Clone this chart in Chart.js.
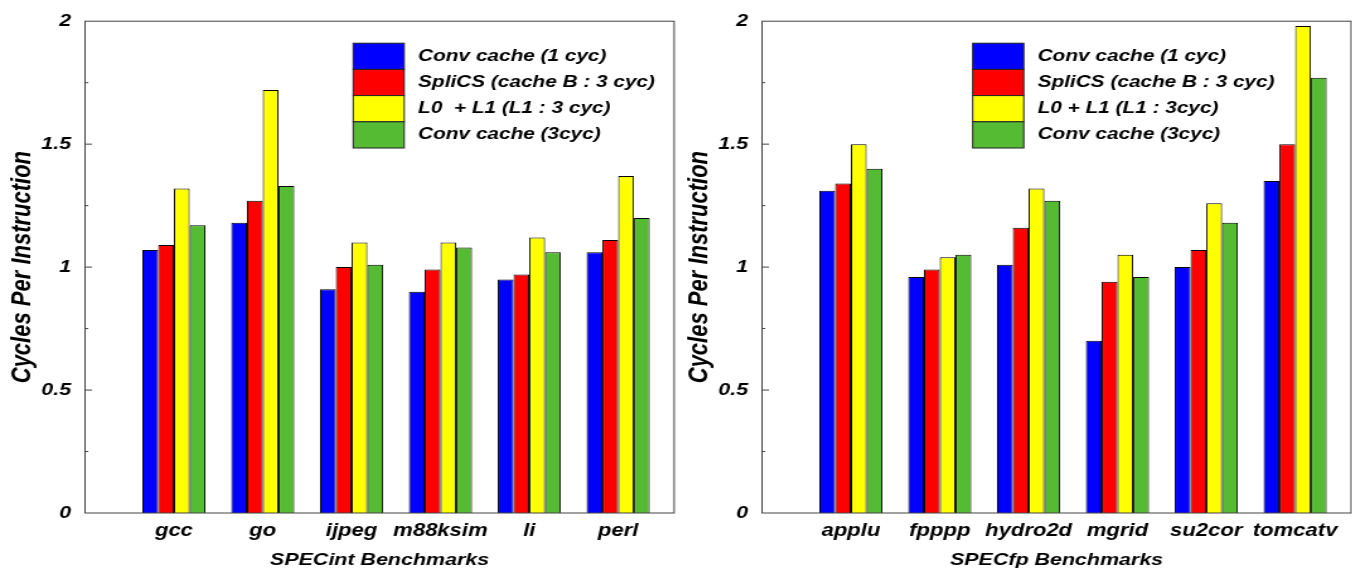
<!DOCTYPE html>
<html>
<head>
<meta charset="utf-8">
<script src="https://cdn.jsdelivr.net/npm/chart.js@4.4.1/dist/chart.umd.min.js"></script>
<style>
  html, body { margin: 0; padding: 0; background: #fff; overflow: hidden; }
  /* the original figure is stretched sideways, so the canvases are too */
  .wrap { position: absolute; top: 0; width: 540px; height: 569px; transform: scaleX(1.26); transform-origin: 0 0; }
  #leftWrap { left: 0; }
  #rightWrap { left: 677px; }
</style>
</head>
<body>
<div id="leftWrap" class="wrap"><canvas id="intChart" width="540" height="569"></canvas></div>
<div id="rightWrap" class="wrap"><canvas id="fpChart" width="540" height="569"></canvas></div>
<script>
var intSeriesNames = ['Conv cache (1 cyc)', 'SpliCS (cache B : 3 cyc)', 'L0  + L1 (L1 : 3 cyc)', 'Conv cache (3cyc)'];
var fpSeriesNames = ['Conv cache (1 cyc)', 'SpliCS (cache B : 3 cyc)', 'L0 + L1 (L1 : 3cyc)', 'Conv cache (3cyc)'];
var seriesColors = ['#0000ff', '#ff0000', '#ffff00', '#55bb33'];

// SPECint
var intBenchmarks = ['gcc', 'go', 'ijpeg', 'm88ksim', 'li', 'perl'];
var intConv1 = [1.07, 1.18, 0.91, 0.90, 0.95, 1.06];
var intSplics = [1.09, 1.27, 1.00, 0.99, 0.97, 1.11];
var intL0L1 = [1.32, 1.72, 1.10, 1.10, 1.12, 1.37];
var intConv3 = [1.17, 1.33, 1.01, 1.08, 1.06, 1.20];

// SPECfp
var fpBenchmarks = ['applu', 'fpppp', 'hydro2d', 'mgrid', 'su2cor', 'tomcatv'];
var fpConv1 = [1.31, 0.96, 1.01, 0.70, 1.00, 1.35];
var fpSplics = [1.34, 0.99, 1.16, 0.94, 1.07, 1.50];
var fpL0L1 = [1.50, 1.04, 1.32, 1.05, 1.26, 1.98];
var fpConv3 = [1.40, 1.05, 1.27, 0.96, 1.18, 1.77];

var yMin = 0, yMax = 2, majorStep = 0.5, minorStep = 0.25;

var fontFamily = '"Liberation Sans", Arial, Helvetica, sans-serif';
Chart.defaults.font.family = fontFamily;
Chart.defaults.color = '#000';

// box around the plot + inward ticks on the y axis
var framePlugin = {
    id: 'frame',
    afterDatasetsDraw(chart) {
        const ctx = chart.ctx;
        const a = chart.chartArea;
        const y = chart.scales.y;
        ctx.save();
        ctx.strokeStyle = '#444';
        ctx.lineWidth = 1;
        ctx.strokeRect(a.left, a.top, a.right - a.left, a.bottom - a.top);
        for (let v = y.min + minorStep; v < y.max - 1e-9; v += minorStep) {
            const py = y.getPixelForValue(v);
            const isMajor = Math.abs(v / majorStep - Math.round(v / majorStep)) < 1e-6;
            ctx.beginPath();
            ctx.moveTo(a.left, py);
            ctx.lineTo(a.left + (isMajor ? 5.5 : 2.5), py);
            ctx.stroke();
        }
        ctx.restore();
    }
};

// stacked colour boxes legend inside the plot
var boxLegendPlugin = {
    id: 'boxLegend',
    afterDraw(chart, args, opts) {
        const ctx = chart.ctx;
        const a = chart.chartArea;
        ctx.save();
        chart.data.datasets.forEach((d, k) => {
            const x = a.left + opts.x;
            const y = a.top + opts.y + k * opts.rowHeight;
            ctx.fillStyle = d.backgroundColor;
            ctx.fillRect(x, y, opts.boxWidth, opts.rowHeight);
            ctx.strokeStyle = '#222';
            ctx.lineWidth = 1;
            ctx.strokeRect(x, y, opts.boxWidth, opts.rowHeight);
            ctx.fillStyle = '#000';
            ctx.font = 'italic bold 16.5px ' + fontFamily;
            ctx.textBaseline = 'middle';
            ctx.textAlign = 'left';
            ctx.fillText(d.label, x + opts.boxWidth + opts.gap, y + opts.rowHeight / 2);
        });
        ctx.restore();
    }
};

function makeChart(canvasId, benchmarks, seriesNames, series, xTitle, legendX) {
    return new Chart(document.getElementById(canvasId), {
        type: 'bar',
        data: {
            datasets: series.map((vals, k) => ({
                label: seriesNames[k],
                data: vals.map((v, i) => ({ x: i + 1, y: v })),
                backgroundColor: seriesColors[k],
                borderColor: '#000',
                borderWidth: 1
            }))
        },
        options: {
            responsive: false,
            animation: false,
            devicePixelRatio: 1,
            categoryPercentage: 0.71,
            barPercentage: 1,
            layout: { padding: { top: 19, right: 5, left: 0, bottom: 0 } },
            plugins: {
                legend: { display: false },
                tooltip: { enabled: false },
                boxLegend: { x: legendX, y: 22, boxWidth: 40.5, rowHeight: 26.2, gap: 11 }
            },
            scales: {
                x: {
                    type: 'linear',
                    min: 0,
                    max: 6.63,
                    offset: false,
                    grid: { display: false, drawTicks: false, offset: false },
                    border: { display: false },
                    ticks: {
                        stepSize: 1,
                        includeBounds: false,
                        autoSkip: false,
                        maxRotation: 0,
                        padding: 8,
                        font: { size: 17.5, style: 'italic', weight: 'bold' },
                        callback: (v) => benchmarks[v - 1] || ''
                    },
                    title: {
                        display: true,
                        text: xTitle,
                        padding: { top: 0, bottom: 0.5 },
                        font: { size: 17, style: 'italic', weight: 'bold', lineHeight: 1 }
                    },
                    afterFit: (s) => { s.height = 56; }
                },
                y: {
                    min: yMin,
                    max: yMax,
                    grid: { display: false, drawTicks: false },
                    border: { display: false },
                    ticks: {
                        stepSize: majorStep,
                        padding: 11,
                        font: { size: 17, style: 'italic', weight: 'bold' },
                        callback: (v) => String(v)
                    },
                    title: {
                        display: true,
                        text: 'Cycles Per Instruction',
                        padding: { top: 7, bottom: 0 },
                        font: { size: 22, style: 'italic', weight: 'bold', lineHeight: 1 }
                    },
                    afterFit: (s) => { s.width = 67.5; }
                }
            }
        },
        plugins: [framePlugin, boxLegendPlugin]
    });
}

makeChart('intChart', intBenchmarks, intSeriesNames,
    [intConv1, intSplics, intL0L1, intConv3], 'SPECint Benchmarks', 212.8);
makeChart('fpChart', fpBenchmarks, fpSeriesNames,
    [fpConv1, fpSplics, fpL0L1, fpConv3], 'SPECfp Benchmarks', 167.2);
</script>
</body>
</html>
